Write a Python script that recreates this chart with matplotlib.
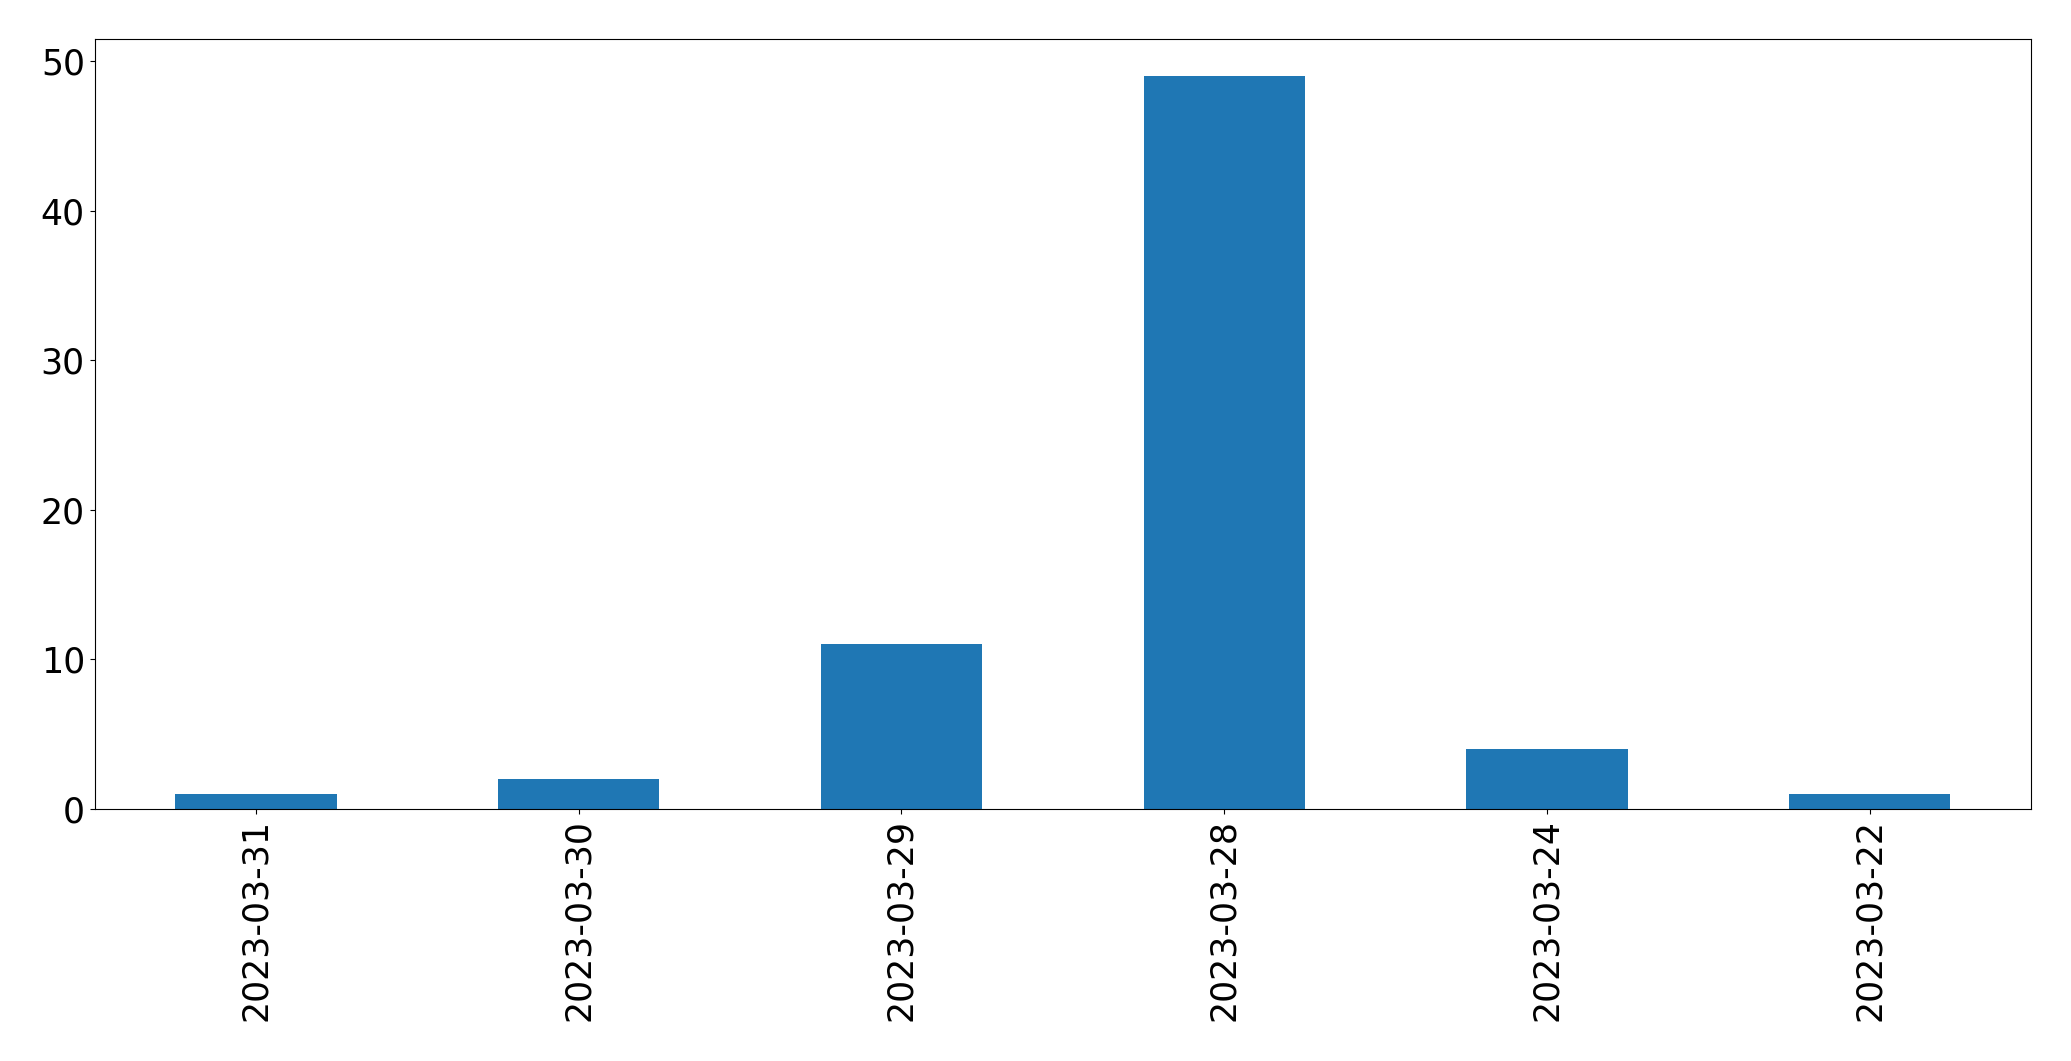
import matplotlib
matplotlib.use("Agg")
import matplotlib.pyplot as plt
import pandas as pd

dates = ["2023-03-31", "2023-03-30", "2023-03-29", "2023-03-28", "2023-03-24", "2023-03-22"]
counts = [1, 2, 11, 49, 4, 1]

fig = plt.figure(figsize=(20.71, 10.61), dpi=100)
ax = fig.add_axes([0.0457, 0.2375, 0.9350, 0.7255])
s = pd.Series(counts, index=dates)
s.plot(kind="bar", ax=ax, color="#1f77b4", width=0.5)
ax.tick_params(axis="both", labelsize=25)
ax.set_xlabel("")
fig.savefig("out.png", dpi=100)
